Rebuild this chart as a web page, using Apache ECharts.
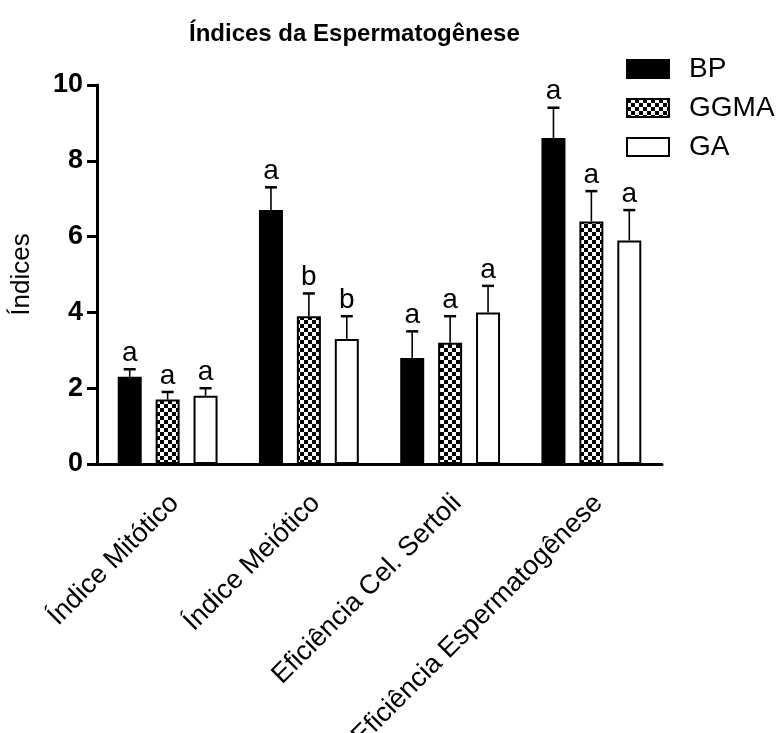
<!DOCTYPE html>
<html>
<head>
<meta charset="utf-8">
<script src="https://cdn.jsdelivr.net/npm/echarts@6/dist/echarts.min.js"></script>
<style>
  html, body { margin: 0; padding: 0; background: #fff; }
  #chart { width: 781px; height: 733px; }
</style>
</head>
<body>
<div id="chart"></div>
<script>
// Categories and group names
const categories = ['Índice Mitótico', 'Índice Meiótico', 'Eficiência Cel. Sertoli', 'Eficiência Espermatogênese'];
const groups = ['BP', 'GGMA', 'GA'];

// Means
const bpValues   = [2.3, 6.7, 2.8, 8.6];
const ggmaValues = [1.7, 3.9, 3.2, 6.4];
const gaValues   = [1.8, 3.3, 4.0, 5.9];

// Error (upper whisker)
const bpErrors   = [0.2, 0.6, 0.7, 0.8];
const ggmaErrors = [0.2, 0.6, 0.7, 0.8];
const gaErrors   = [0.2, 0.6, 0.7, 0.8];

// Significance letters
const bpLetters   = ['a', 'a', 'a', 'a'];
const ggmaLetters = ['a', 'b', 'a', 'a'];
const gaLetters   = ['a', 'b', 'a', 'a'];

// Y axis ticks
const yTicks = [0, 2, 4, 6, 8, 10];

const FONT = '"Liberation Sans", Arial, Helvetica, sans-serif';
const BAR_WIDTH = 24;
const BAR_GAP = 0.58;

// checkerboard fill for the GGMA group
function checker() {
  const c = document.createElement('canvas');
  c.width = 8; c.height = 8;
  const g = c.getContext('2d');
  g.fillStyle = '#fff'; g.fillRect(0, 0, 8, 8);
  g.fillStyle = '#000';
  g.fillRect(0, 0, 4, 4);
  g.fillRect(4, 4, 4, 4);
  return c;
}
const checkerPattern = { image: checker(), repeat: 'repeat' };

const valueSets  = [bpValues, ggmaValues, gaValues];
const errorSets  = [bpErrors, ggmaErrors, gaErrors];
const letterSets = [bpLetters, ggmaLetters, gaLetters];
const fills = ['#000000', checkerPattern, '#ffffff'];

const series = [];
groups.forEach((name, i) => {
  series.push({
    name: name,
    type: 'bar',
    data: valueSets[i],
    barWidth: BAR_WIDTH,
    barGap: (BAR_GAP * 100) + '%',
    itemStyle: { color: fills[i], borderColor: '#000', borderWidth: 2 },
    emphasis: { disabled: true },
    animation: false
  });
});

// whiskers and letters, drawn over each bar
groups.forEach((name, i) => {
  const offset = (i - (groups.length - 1) / 2) * BAR_WIDTH * (1 + BAR_GAP);
  series.push({
    type: 'custom',
    name: name + ' err',
    z: 5,
    animation: false,
    silent: true,
    data: valueSets[i].map((v, k) => [k, v, v + errorSets[i][k]]),
    encode: { x: 0, y: 2 },
    renderItem: function (params, api) {
      const k = api.value(0);
      const base = api.coord([k, api.value(1)]);
      const top = api.coord([k, api.value(2)]);
      const x = base[0] + offset;
      const capHalf = 6;
      return {
        type: 'group',
        children: [
          { type: 'line', shape: { x1: x, y1: base[1], x2: x, y2: top[1] },
            style: { stroke: '#000', lineWidth: 1.6 } },
          { type: 'line', shape: { x1: x - capHalf, y1: top[1], x2: x + capHalf, y2: top[1] },
            style: { stroke: '#000', lineWidth: 2.5 } },
          { type: 'text', x: x, y: top[1] - 2,
            style: { text: letterSets[i][params.dataIndex], fill: '#000',
                     font: '28px ' + FONT, align: 'center', verticalAlign: 'bottom' } }
        ]
      };
    }
  });
});

const chart = echarts.init(document.getElementById('chart'), null, { renderer: 'canvas' });
chart.setOption({
  backgroundColor: '#ffffff',
  animation: false,
  title: {
    text: 'Índices da Espermatogênese',
    left: 184,
    top: 17,
    textStyle: { fontFamily: FONT, fontSize: 24, fontWeight: 'bold', color: '#000' }
  },
  legend: {
    data: groups,
    orient: 'vertical',
    left: 626,
    top: 55,
    padding: 0,
    icon: 'rect',
    itemWidth: 42,
    itemHeight: 18,
    itemGap: 11,
    selectedMode: false,
    itemStyle: { borderColor: '#000', borderWidth: 2 },
    textStyle: { fontFamily: FONT, fontSize: 28, color: '#000', padding: [0, 0, 0, 15] }
  },
  grid: { left: 97, top: 85, width: 565, height: 379, outerBoundsMode: 'none', containLabel: false },
  xAxis: {
    type: 'category',
    data: categories,
    axisLine: { lineStyle: { color: '#000', width: 3 } },
    axisTick: { alignWithLabel: true, length: 10, lineStyle: { color: '#000', width: 3 } },
    axisLabel: { rotate: 45, margin: 28, interval: 0, verticalAlign: 'top', lineHeight: 20,
                 fontFamily: FONT, fontSize: 27, color: '#000' }
  },
  yAxis: {
    type: 'value',
    min: yTicks[0],
    max: yTicks[yTicks.length - 1],
    interval: yTicks[1] - yTicks[0],
    name: 'Índices',
    nameLocation: 'middle',
    nameGap: 62,
    nameTextStyle: { fontFamily: FONT, fontSize: 26, color: '#000' },
    axisLine: { show: true, lineStyle: { color: '#000', width: 3 } },
    axisTick: { show: true, length: 10, lineStyle: { color: '#000', width: 3 } },
    axisLabel: { margin: 14, fontFamily: FONT, fontSize: 27, fontWeight: 'bold', color: '#000' },
    splitLine: { show: false }
  },
  series: series
});
</script>
</body>
</html>
